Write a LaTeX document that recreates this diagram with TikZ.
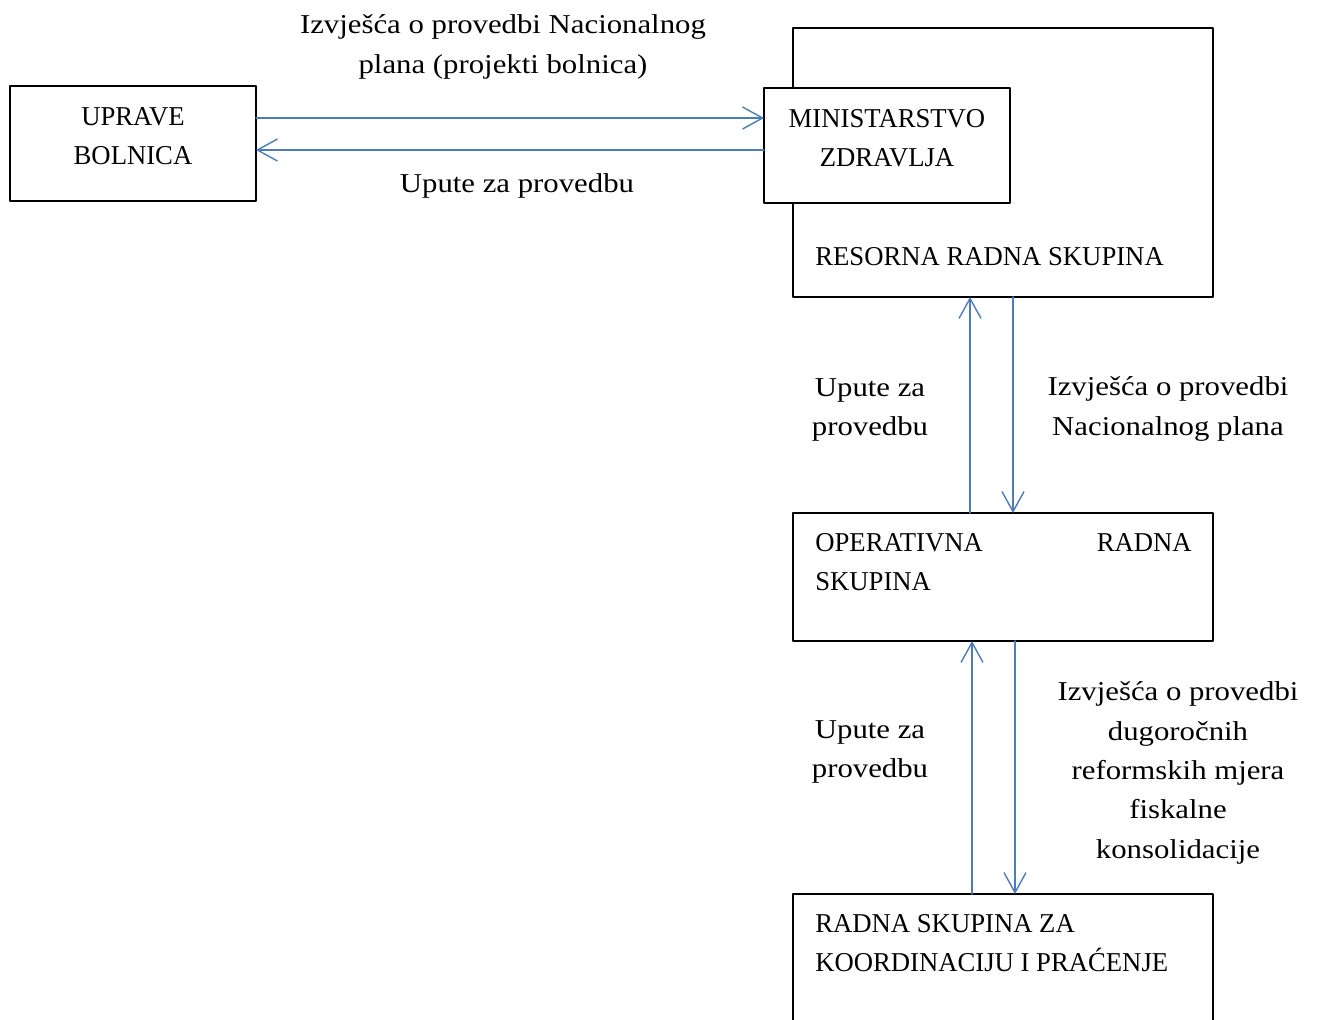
\documentclass[tikz,border=0pt]{standalone}
\usepackage{fontspec}
\setmainfont[FakeStretch=0.98]{Liberation Serif}
\newfontfamily\lblfont[FakeStretch=1.13]{Liberation Serif}
\usepackage{tikz}
\usetikzlibrary{arrows.meta}
\definecolor{qqlqbb}{rgb}{0.29,0.49,0.73}
\begin{document}
\begin{tikzpicture}[line cap=round,line join=round,>={Straight Barb[length=4mm,width=4.4mm]},x=0.02cm,y=-0.02cm,
  box/.style={draw=black,line width=1.2pt,fill=white,inner sep=0pt,outer sep=0pt},
  flow/.style={->,color=qqlqbb,line width=0.8pt},
  txt/.style={align=center,inner sep=0pt,font=\fontsize{15.5}{22.4}\selectfont},
  lbl/.style={txt,font=\lblfont\fontsize{15.5}{22.4}\selectfont}]
\clip(0,0) rectangle (1319,1019);
\useasboundingbox (0,0) rectangle (1319,1019);
% boxes
\node[box,minimum width=4.92cm,minimum height=2.3cm] (upr) at (133,143.5) {};
\node[box,minimum width=8.4cm,minimum height=5.38cm] (res) at (1003,162.5) {};
\node[box,minimum width=4.92cm,minimum height=2.3cm] (min) at (887,145.5) {};
\node[box,minimum width=8.4cm,minimum height=2.56cm] (ops) at (1003,577) {};
\node[box,minimum width=8.4cm,minimum height=2.92cm] (koo) at (1003,967) {};
% texts in boxes
\node[txt] (tupr) at (133,136) {UPRAVE\\BOLNICA};
\node[txt] (tmin) at (887,138) {MINISTARSTVO\\ZDRAVLJA};
\node[txt,anchor=west] (tres) at (815,257) {RESORNA RADNA SKUPINA};
\node[txt,anchor=west] (tops1) at (815,543) {OPERATIVNA};
\node[txt,anchor=east] (tops2) at (1192,543) {RADNA};
\node[txt,anchor=west] (tops3) at (815,582) {SKUPINA};
\node[txt,anchor=west,align=left] (tkoo) at (815,943) {RADNA SKUPINA ZA\\KOORDINACIJU I PRAĆENJE};
% connectors
\coordinate (h1) at (0,118);
\coordinate (h2) at (0,150);
\coordinate (v1) at (970,0);
\coordinate (v2) at (1013,0);
\coordinate (v3) at (972,0);
\coordinate (v4) at (1015,0);
\draw[flow] (upr.east |- h1) -- (min.west |- h1);
\draw[flow] (min.west |- h2) -- (upr.east |- h2);
\draw[flow] (ops.north -| v1) -- (res.south -| v1);
\draw[flow] (res.south -| v2) -- (ops.north -| v2);
\draw[flow] (koo.north -| v3) -- (ops.south -| v3);
\draw[flow] (ops.south -| v4) -- (koo.north -| v4);
% labels
\node[lbl] (l1) at (503,47) {Izvješća o provedbi Nacionalnog\\plana (projekti bolnica)};
\node[lbl] (l2) at (517,186) {Upute za provedbu};
\node[lbl] (l3) at (870,410) {Upute za\\provedbu};
\node[lbl] (l4) at (1168,409) {Izvješća o provedbi\\Nacionalnog plana};
\node[lbl] (l5) at (870,752) {Upute za\\provedbu};
\node[lbl] (l6) at (1178,773) {Izvješća o provedbi\\dugoročnih\\reformskih mjera\\fiskalne\\konsolidacije};
\end{tikzpicture}
\end{document}
